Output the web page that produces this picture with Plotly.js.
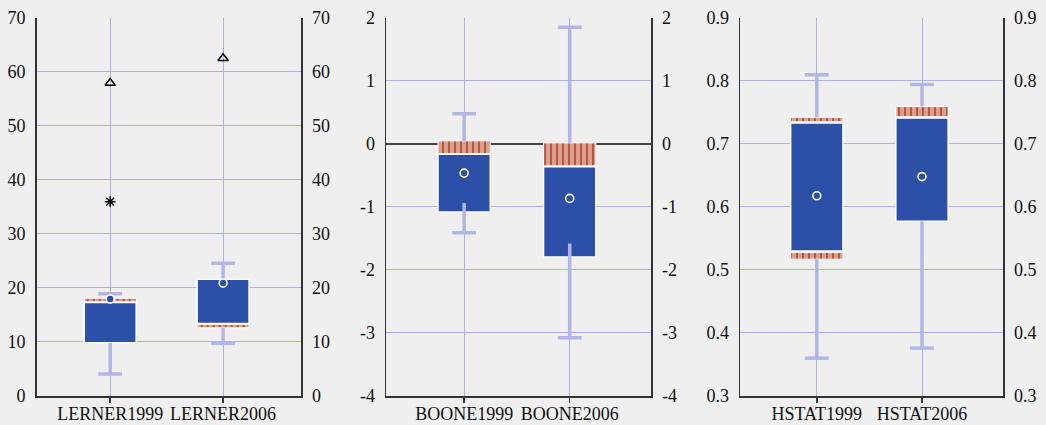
<!DOCTYPE html>
<html>
<head>
<meta charset="utf-8">
<script src="https://cdn.plot.ly/plotly-3.0.1.min.js"></script>
<style>html,body{margin:0;padding:0;background:#efefef;}</style>
</head>
<body>
<div id="chart" style="width:1046px;height:425px;"></div>
<script>
// ---- data ----
const lernerCats = ['LERNER1999', 'LERNER2006'];
const lernerQ1 = [9.87, 13.4];
const lernerQ3 = [17.3, 21.6];
const lernerNotchLo = [17.45, 12.64];
const lernerNotchHi = [18.1, 13.27];
const lernerWhiskLo = [4.07, 9.75];
const lernerWhiskHi = [18.9, 24.55];
const lernerLowStart = [9.87, 12.64];
const lernerHighStart = [18.1, 21.6];
const lernerMean = [17.95, 20.9];
const lernerFarOutX = [0, 1];
const lernerFarOut = [57.9, 62.5];
const lernerNearOutX = [0];
const lernerNearOut = [35.95];
const lernerTicks = [0, 10, 20, 30, 40, 50, 60, 70];
const lernerTickText = ['0', '10', '20', '30', '40', '50', '60', '70'];

const booneCats = ['BOONE1999', 'BOONE2006'];
const booneQ1 = [-1.08, -1.797];
const booneQ3 = [-0.165, -0.365];
const booneNotchLo = [-0.155, -0.35];
const booneNotchHi = [0.047, 0.015];
const booneWhiskLo = [-1.41, -3.076];
const booneWhiskHi = [0.475, 1.85];
const booneLowStart = [-0.94, -1.58];
const booneHighStart = [0.047, 0.015];
const booneMean = [-0.465, -0.866];
const booneTicks = [-4, -3, -2, -1, 0, 1, 2];
const booneTickText = ['-4', '-3', '-2', '-1', '0', '1', '2'];

const hstatCats = ['HSTAT1999', 'HSTAT2006'];
const hstatQ1 = [0.530, 0.577];
const hstatQ3 = [0.733, 0.741];
const hstatNotchLo = [0.735, 0.743];
const hstatNotchHi = [0.742, 0.759];
const hstatNotchLo2 = [0.517, null];
const hstatNotchHi2 = [0.5275, null];
const hstatWhiskLo = [0.360, 0.376];
const hstatWhiskHi = [0.8095, 0.794];
const hstatLowStart = [0.517, 0.577];
const hstatHighStart = [0.742, 0.759];
const hstatMean = [0.6175, 0.648];
const hstatTicks = [0.3, 0.4, 0.5, 0.6, 0.7, 0.8, 0.9];
const hstatTickText = ['0.3', '0.4', '0.5', '0.6', '0.7', '0.8', '0.9'];

// ---- styles ----
const BLUE = '#2c4fa8';
const WHISK = '#b1b6e6';
const GRID = '#aab0e8';
const HATCH_BG = '#d9a08c';
const HATCH_FG = '#b0392a';
const FONT = {family: 'Liberation Serif, Times New Roman, serif', size: 18, color: '#111'};

function idx(n) { return Array.from({length: n}, (_, i) => i); }

function panel(xa, ya, cats, q1, q3, notches, wlo, whi, lowStart, highStart, mean, width) {
  const xs = idx(cats.length);
  const tr = [];
  tr.push({type: 'bar', x: xs, base: q1, y: q1.map((v, i) => q3[i] - v), width: width,
    xaxis: xa, yaxis: ya, marker: {color: BLUE, line: {color: '#ffffff', width: 1.5}},
    hoverinfo: 'skip', showlegend: false});
  notches.forEach(([lo, hi]) => {
    const bx = [], bb = [], by = [];
    xs.forEach(i => { if (lo[i] !== null) { bx.push(i); bb.push(lo[i]); by.push(hi[i] - lo[i]); } });
    tr.push({type: 'bar', x: bx, base: bb, y: by, width: width, xaxis: xa, yaxis: ya,
      marker: {color: HATCH_BG, line: {color: '#ffffff', width: 1},
        pattern: {shape: '|', fgcolor: HATCH_FG, bgcolor: HATCH_BG, size: 6, solidity: 0.25}},
      hoverinfo: 'skip', showlegend: false});
  });
  const lx = [], ly = [];
  xs.forEach(i => {
    lx.push(i, i, null, i, i, null);
    ly.push(lowStart[i], wlo[i], null, highStart[i], whi[i], null);
  });
  tr.push({type: 'scatter', mode: 'lines', x: lx, y: ly, xaxis: xa, yaxis: ya,
    line: {color: WHISK, width: 3.5}, hoverinfo: 'skip', showlegend: false, connectgaps: false});
  tr.push({type: 'scatter', mode: 'markers', x: xs.concat(xs), y: wlo.concat(whi), xaxis: xa, yaxis: ya,
    marker: {symbol: 'line-ew', size: 17, line: {color: WHISK, width: 3.5}},
    hoverinfo: 'skip', showlegend: false});
  tr.push({type: 'scatter', mode: 'markers', x: xs, y: mean, xaxis: xa, yaxis: ya,
    marker: {symbol: 'circle', size: 8, color: BLUE, line: {color: '#ffffff', width: 1.6}},
    hoverinfo: 'skip', showlegend: false});
  return tr;
}

let traces = [];
traces = traces.concat(panel('x', 'y', lernerCats, lernerQ1, lernerQ3, [[lernerNotchLo, lernerNotchHi]],
  lernerWhiskLo, lernerWhiskHi, lernerLowStart, lernerHighStart, lernerMean, 0.46));
traces.push({type: 'scatter', mode: 'markers', x: lernerFarOutX, y: lernerFarOut, xaxis: 'x', yaxis: 'y',
  marker: {symbol: 'triangle-up-open', size: 9, color: '#000', line: {color: '#000', width: 1.5}},
  hoverinfo: 'skip', showlegend: false});
traces.push({type: 'scatter', mode: 'markers', x: lernerNearOutX, y: lernerNearOut, xaxis: 'x', yaxis: 'y',
  marker: {symbol: 'asterisk-open', size: 9, color: '#000', line: {color: '#000', width: 1.5}},
  hoverinfo: 'skip', showlegend: false});
traces = traces.concat(panel('x2', 'y2', booneCats, booneQ1, booneQ3, [[booneNotchLo, booneNotchHi]],
  booneWhiskLo, booneWhiskHi, booneLowStart, booneHighStart, booneMean, 0.495));
traces = traces.concat(panel('x3', 'y3', hstatCats, hstatQ1, hstatQ3,
  [[hstatNotchLo, hstatNotchHi], [hstatNotchLo2, hstatNotchHi2]],
  hstatWhiskLo, hstatWhiskHi, hstatLowStart, hstatHighStart, hstatMean, 0.497));
// invisible anchors for the right-hand axes
['y4', 'y5', 'y6'].forEach((ya, k) => traces.push({type: 'scatter', x: [null], y: [null],
  xaxis: ['x', 'x2', 'x3'][k], yaxis: ya, hoverinfo: 'skip', showlegend: false}));

const yDom = [1 - 396 / 425, 1 - 17.7 / 425];
function xax(dom, range, cats) {
  return {domain: dom, range: range, tickvals: idx(cats.length), ticktext: cats,
    showgrid: true, gridcolor: GRID, gridwidth: 1, zeroline: false,
    showline: true, linecolor: '#333', linewidth: 1.5, ticks: 'outside', ticklen: 5,
    tickcolor: '#333', tickwidth: 1.5, tickfont: FONT, ticklabelstandoff: -4, fixedrange: true};
}
function yax(range, tv, tt, anchor, extra) {
  return Object.assign({domain: yDom, range: range, tickvals: tv, ticktext: tt, anchor: anchor,
    showgrid: true, gridcolor: GRID, gridwidth: 1, zeroline: false,
    showline: true, linecolor: '#333', linewidth: 1.5, ticks: '', tickfont: FONT,
    ticklabelstandoff: 6, fixedrange: true}, extra || {});
}
function yright(range, tv, tt, anchor, over) {
  return {domain: yDom, range: range, tickvals: tv, ticktext: tt, anchor: anchor, overlaying: over,
    side: 'right', showgrid: false, zeroline: false, showline: true, linecolor: '#333', linewidth: 1.5,
    ticks: '', tickfont: FONT, ticklabelstandoff: 6, fixedrange: true};
}

const layout = {
  width: 1046, height: 425,
  margin: {l: 0, r: 0, t: 0, b: 0, pad: 0},
  paper_bgcolor: '#efefef', plot_bgcolor: '#efefef',
  barmode: 'overlay', showlegend: false, font: FONT,
  xaxis: xax([36.7 / 1046, 301 / 1046], [-0.651, 1.69], lernerCats),
  xaxis2: xax([386 / 1046, 651 / 1046], [-0.74, 1.77], booneCats),
  xaxis3: xax([740 / 1046, 1003 / 1046], [-0.73, 1.77], hstatCats),
  yaxis: yax([0, 70], lernerTicks, lernerTickText, 'x'),
  yaxis2: yax([-4, 2], booneTicks, booneTickText, 'x2', {zeroline: true, zerolinecolor: '#444', zerolinewidth: 2}),
  yaxis3: yax([0.3, 0.9], hstatTicks, hstatTickText, 'x3'),
  yaxis4: yright([0, 70], lernerTicks, lernerTickText, 'x', 'y'),
  yaxis5: yright([-4, 2], booneTicks, booneTickText, 'x2', 'y2'),
  yaxis6: yright([0.3, 0.9], hstatTicks, hstatTickText, 'x3', 'y3')
};

Plotly.newPlot('chart', traces, layout, {displayModeBar: false, staticPlot: true});
</script>
</body>
</html>
